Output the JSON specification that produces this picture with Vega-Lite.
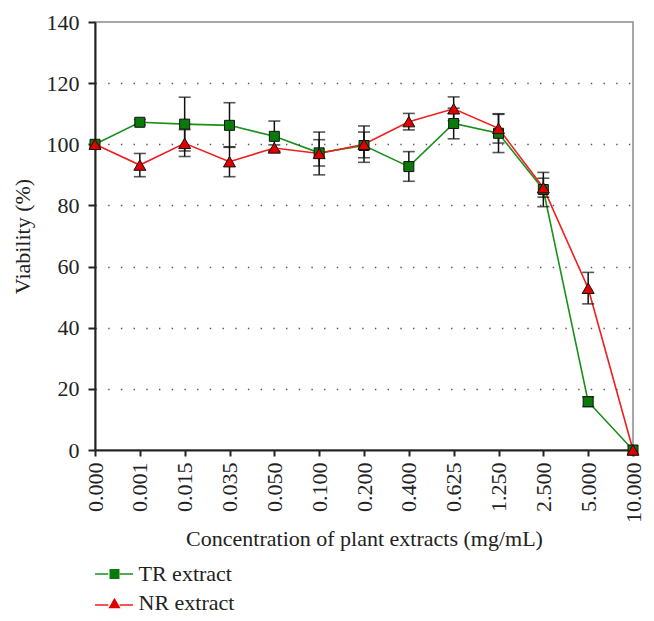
{
  "$schema": "https://vega.github.io/schema/vega-lite/v6.json",
  "width": 538,
  "height": 428,
  "autosize": {"type": "none"},
  "padding": {"left": 95, "top": 22, "right": 21, "bottom": 171},
  "background": "white",
  "config": {
    "font": "Liberation Serif",
    "view": {"stroke": "#8a8a8a", "strokeWidth": 1.5},
    "axis": {
      "labelFont": "Liberation Serif",
      "titleFont": "Liberation Serif",
      "labelFontSize": 22,
      "titleFontSize": 22,
      "titleFontWeight": "normal",
      "labelColor": "#222",
      "titleColor": "#222",
      "domainColor": "#222",
      "domainWidth": 2,
      "tickColor": "#222",
      "tickWidth": 2
    },
    "legend": {
      "labelFont": "Liberation Serif",
      "labelFontSize": 22,
      "labelColor": "#222",
      "title": null,
      "padding": 0
    }
  },
  "data": {
    "values": [
      {"c": "0.000", "s": "TR extract", "v": 100, "lo": null, "hi": null},
      {"c": "0.001", "s": "TR extract", "v": 107.2, "lo": 106.3, "hi": 108.1},
      {"c": "0.015", "s": "TR extract", "v": 106.6, "lo": 97.8, "hi": 115.4},
      {"c": "0.035", "s": "TR extract", "v": 106.2, "lo": 99.0, "hi": 113.6},
      {"c": "0.050", "s": "TR extract", "v": 102.6, "lo": 97.6, "hi": 107.6},
      {"c": "0.100", "s": "TR extract", "v": 97.2, "lo": 92.9, "hi": 101.5},
      {"c": "0.200", "s": "TR extract", "v": 99.6, "lo": 95.6, "hi": 104.0},
      {"c": "0.400", "s": "TR extract", "v": 92.7, "lo": 87.9, "hi": 97.6},
      {"c": "0.625", "s": "TR extract", "v": 106.8, "lo": 101.8, "hi": 111.8},
      {"c": "1.250", "s": "TR extract", "v": 103.6, "lo": 97.3, "hi": 109.8},
      {"c": "2.500", "s": "TR extract", "v": 85.2, "lo": 79.6, "hi": 90.8},
      {"c": "5.000", "s": "TR extract", "v": 15.8, "lo": 14.2, "hi": 17.4},
      {"c": "10.000", "s": "TR extract", "v": 0, "lo": null, "hi": null},
      {"c": "0.000", "s": "NR extract", "v": 100, "lo": null, "hi": null},
      {"c": "0.001", "s": "NR extract", "v": 93.2, "lo": 89.4, "hi": 97.0},
      {"c": "0.015", "s": "NR extract", "v": 100.3, "lo": 96.0, "hi": 104.8},
      {"c": "0.035", "s": "NR extract", "v": 94.3, "lo": 89.4, "hi": 99.2},
      {"c": "0.050", "s": "NR extract", "v": 98.8, "lo": 97.8, "hi": 99.8},
      {"c": "0.100", "s": "NR extract", "v": 97.0, "lo": 90.0, "hi": 104.0},
      {"c": "0.200", "s": "NR extract", "v": 100.0, "lo": 94.1, "hi": 106.0},
      {"c": "0.400", "s": "NR extract", "v": 107.4, "lo": 104.7, "hi": 110.1},
      {"c": "0.625", "s": "NR extract", "v": 111.6, "lo": 107.7, "hi": 115.5},
      {"c": "1.250", "s": "NR extract", "v": 105.2, "lo": 100.4, "hi": 110.0},
      {"c": "2.500", "s": "NR extract", "v": 85.8, "lo": 82.7, "hi": 88.9},
      {"c": "5.000", "s": "NR extract", "v": 52.9, "lo": 47.8, "hi": 58.1},
      {"c": "10.000", "s": "NR extract", "v": 0, "lo": null, "hi": null}
    ]
  },
  "encoding": {
    "x": {
      "field": "c",
      "type": "ordinal",
      "sort": null,
      "scale": {"type": "point", "padding": 0},
      "axis": {
        "title": "Concentration of plant extracts (mg/mL)",
        "labelAngle": -90,
        "labelPadding": 6,
        "tickSize": 6,
        "titlePadding": 6,
        "grid": false
      }
    }
  },
  "layer": [
    {
      "mark": {"type": "line", "strokeWidth": 1.6},
      "encoding": {
        "y": {
          "field": "v",
          "type": "quantitative",
          "scale": {"domain": [0, 140], "nice": false},
          "axis": {
            "title": "Viability (%)",
            "values": [0, 20, 40, 60, 80, 100, 120, 140],
            "tickSize": 7,
            "labelPadding": 9,
            "titlePadding": 12,
            "grid": true,
            "gridColor": "#555",
            "gridWidth": 1.4,
            "gridDash": [1.4, 11.3],
            "gridOpacity": {"condition": {"test": "datum.value == 0 || datum.value == 140", "value": 0}, "value": 1}
          }
        },
        "stroke": {
          "field": "s",
          "type": "nominal",
          "sort": ["TR extract", "NR extract"],
          "scale": {"range": ["#1a8f1a", "#f01e1e"]},
          "legend": {
            "orient": "none",
            "legendX": -1,
            "legendY": 532,
            "symbolType": "M-1,0H-0.3M0.3,0H1",
            "symbolSize": 1444,
            "symbolStrokeWidth": 1.6,
            "labelColor": "transparent",
            "rowPadding": -10.6
          }
        }
      }
    },
    {
      "mark": {"type": "rule", "color": "#111", "strokeWidth": 1.5},
      "encoding": {
        "y": {"field": "lo", "type": "quantitative", "title": "Viability (%)"},
        "y2": {"field": "hi"}
      }
    },
    {
      "mark": {"type": "tick", "color": "#111", "size": 12, "thickness": 1.6},
      "encoding": {
        "y": {"field": "lo", "type": "quantitative", "title": "Viability (%)"}
      }
    },
    {
      "mark": {"type": "tick", "color": "#111", "size": 12, "thickness": 1.6},
      "encoding": {
        "y": {"field": "hi", "type": "quantitative", "title": "Viability (%)"}
      }
    },
    {
      "mark": {"type": "point", "filled": true, "stroke": "#111", "strokeWidth": 1, "opacity": 1},
      "encoding": {
        "y": {"field": "v", "type": "quantitative", "title": "Viability (%)"},
        "fill": {
          "field": "s",
          "type": "nominal",
          "scale": {"domain": ["TR extract", "NR extract"], "range": ["#0a7a0a", "#e00000"]},
          "legend": {
            "orient": "none",
            "legendX": 8.5,
            "legendY": 541,
            "symbolSize": 110,
            "symbolStrokeColor": "#111",
            "symbolStrokeWidth": 1,
            "labelOffset": 13,
            "rowPadding": 7
          }
        },
        "shape": {
          "field": "s",
          "type": "nominal",
          "scale": {"domain": ["TR extract", "NR extract"], "range": ["square", "triangle-up"]},
          "legend": {
            "orient": "none",
            "legendX": 8.5,
            "legendY": 541,
            "symbolSize": 110,
            "symbolStrokeColor": "#111",
            "symbolStrokeWidth": 1,
            "labelOffset": 13,
            "rowPadding": 7
          }
        },
        "size": {
          "field": "s",
          "type": "nominal",
          "scale": {"domain": ["TR extract", "NR extract"], "range": [100, 144]},
          "legend": {
            "orient": "none",
            "legendX": 8.5,
            "legendY": 541,
            "symbolSize": 110,
            "symbolStrokeColor": "#111",
            "symbolStrokeWidth": 1,
            "labelOffset": 13,
            "rowPadding": 7
          }
        }
      }
    }
  ]
}
